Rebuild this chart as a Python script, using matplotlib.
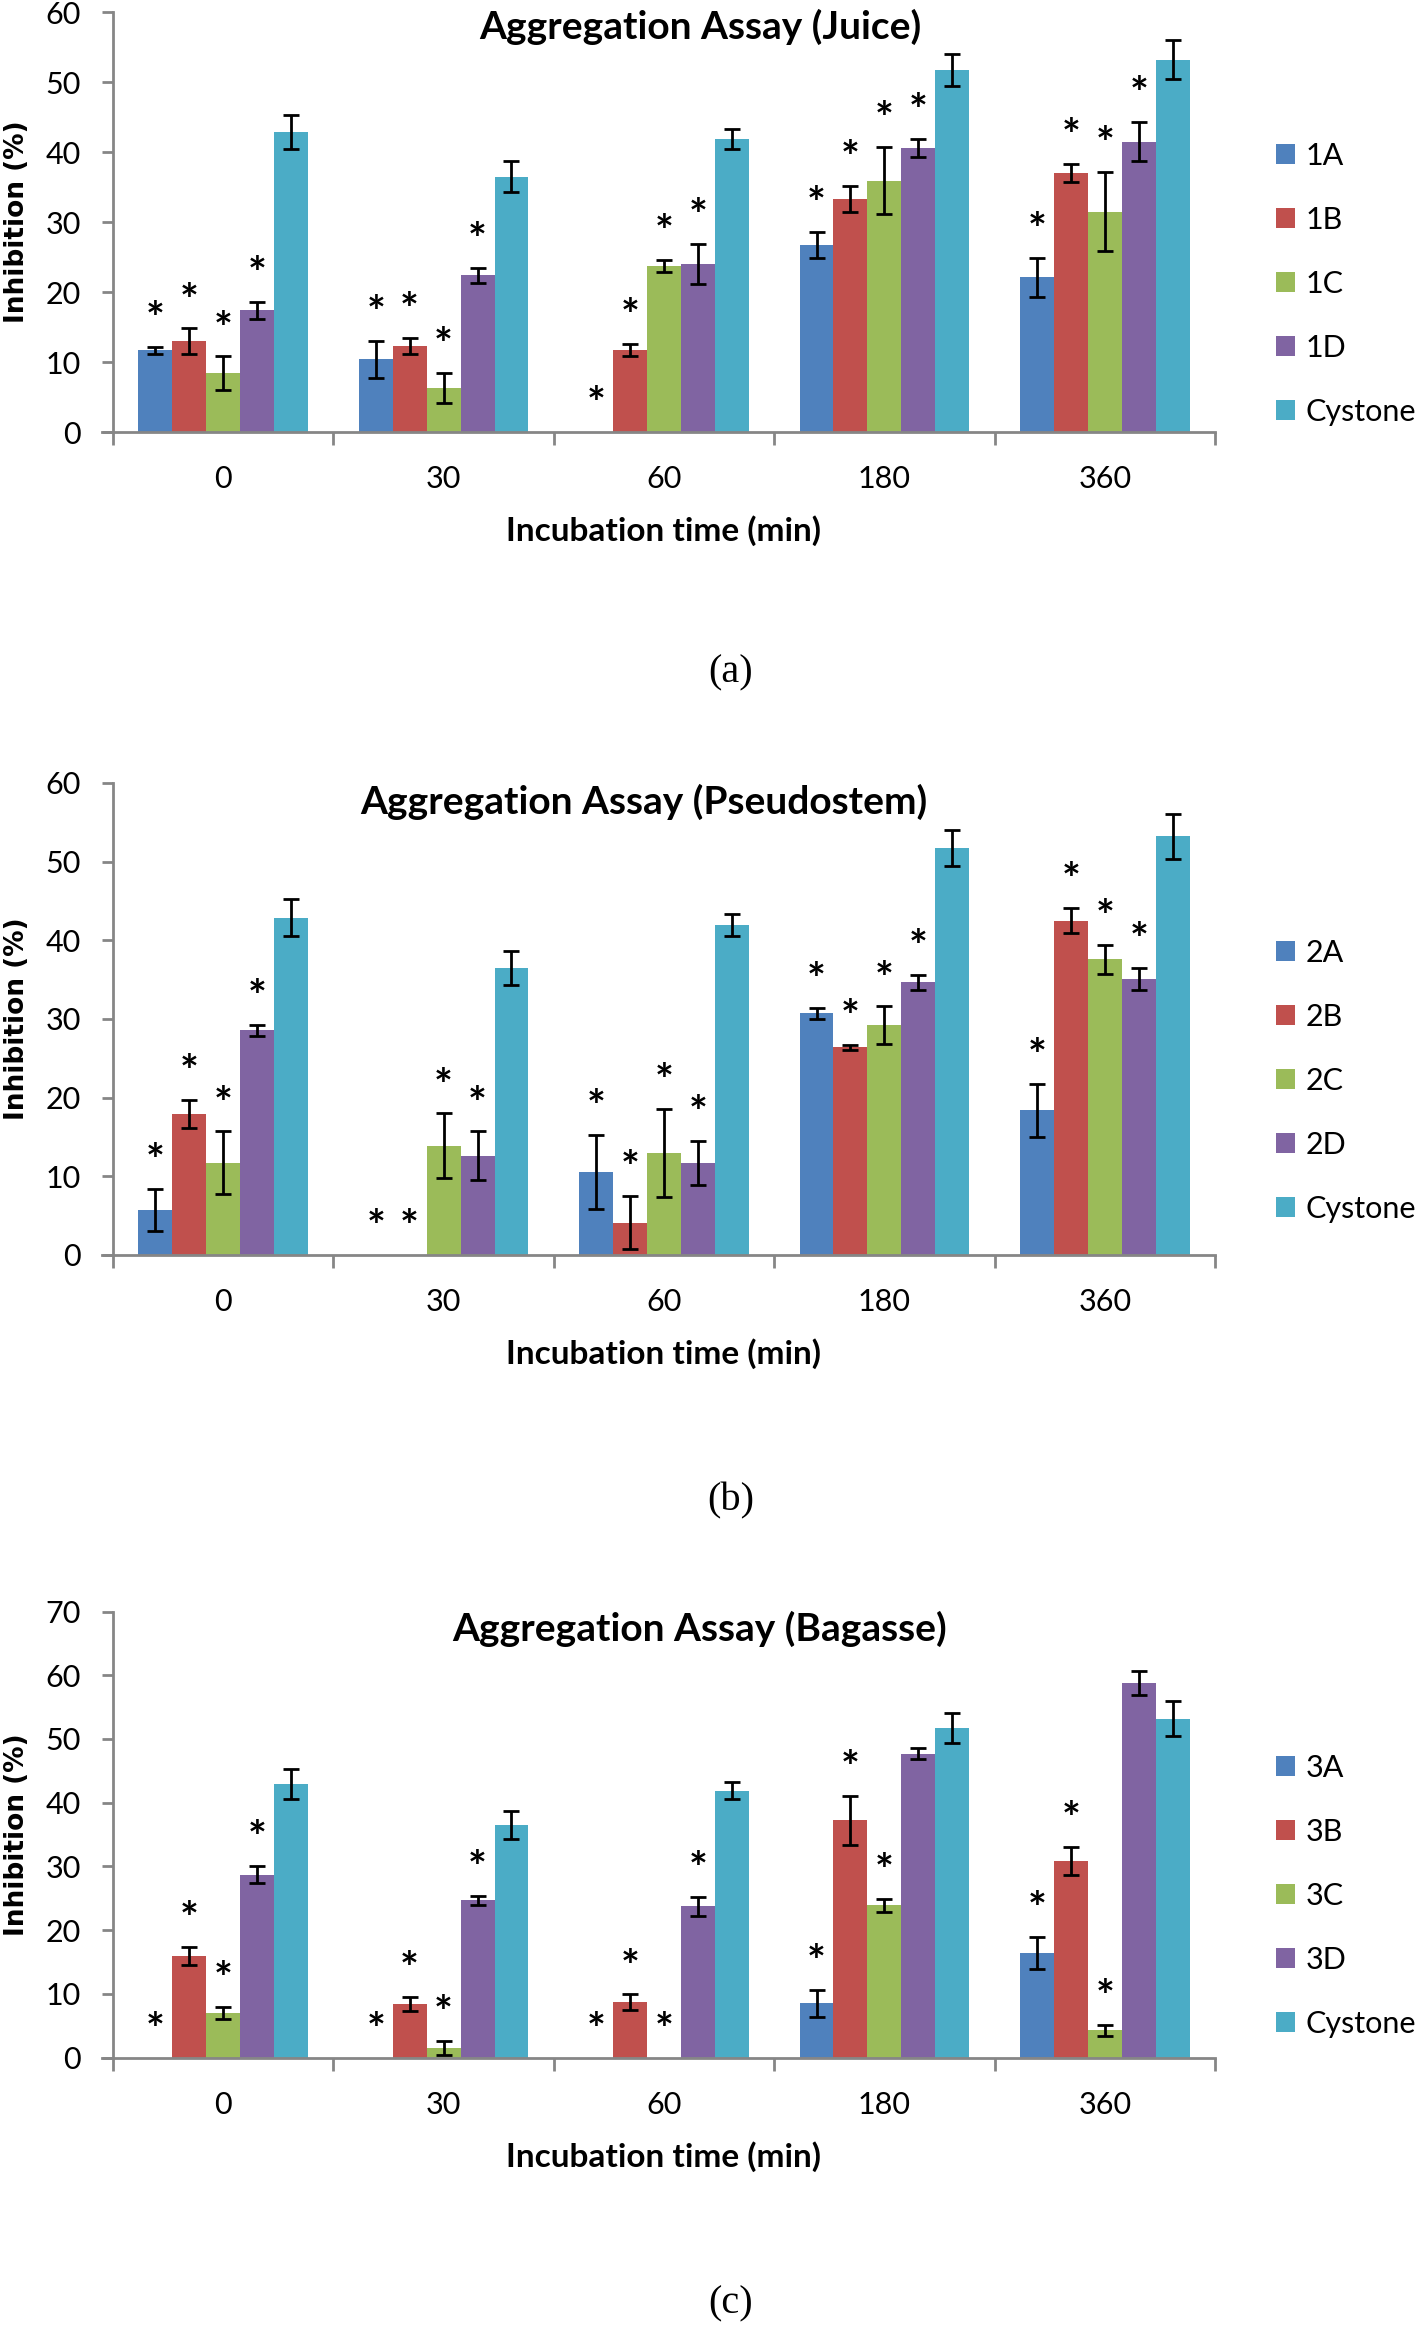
import matplotlib
matplotlib.use("Agg")
import matplotlib.pyplot as plt
import numpy as np

# ---------------- data ----------------
times = ["0", "30", "60", "180", "360"]

cystone = [42.9, 36.5, 41.9, 51.7, 53.2]
cystone_err = [2.4, 2.2, 1.4, 2.3, 2.8]

# Juice
juice_labels = ["1A", "1B", "1C", "1D", "Cystone"]
j_1A = [11.7, 10.4, 0.0, 26.7, 22.1]
j_1A_err = [0.5, 2.65, 0.0, 1.9, 2.8]
j_1B = [13.0, 12.3, 11.7, 33.3, 37.0]
j_1B_err = [1.8, 1.1, 0.9, 1.9, 1.3]
j_1C = [8.4, 6.3, 23.7, 35.9, 31.5]
j_1C_err = [2.4, 2.1, 0.9, 4.8, 5.6]
j_1D = [17.4, 22.4, 24.0, 40.6, 41.5]
j_1D_err = [1.2, 1.1, 2.9, 1.25, 2.85]
j_star = [[1, 1, 1, 1, 1], [1, 1, 1, 1, 1], [1, 1, 1, 1, 1], [1, 1, 1, 1, 1], [0, 0, 0, 0, 0]]

# Pseudostem
pseudo_labels = ["2A", "2B", "2C", "2D", "Cystone"]
p_2A = [5.7, 0.0, 10.6, 30.7, 18.4]
p_2A_err = [2.7, 0.0, 4.7, 0.65, 3.4]
p_2B = [17.9, 0.0, 4.1, 26.4, 42.5]
p_2B_err = [1.8, 0.0, 3.4, 0.35, 1.6]
p_2C = [11.7, 13.9, 13.0, 29.2, 37.6]
p_2C_err = [4.0, 4.1, 5.6, 2.4, 1.85]
p_2D = [28.6, 12.6, 11.7, 34.7, 35.1]
p_2D_err = [0.7, 3.1, 2.75, 0.95, 1.4]
p_star = [[1, 1, 1, 1, 1], [1, 1, 1, 1, 1], [1, 1, 1, 1, 1], [1, 1, 1, 1, 1], [0, 0, 0, 0, 0]]

# Bagasse
bag_labels = ["3A", "3B", "3C", "3D", "Cystone"]
b_3A = [0.0, 0.0, 0.0, 8.5, 16.4]
b_3A_err = [0.0, 0.0, 0.0, 2.1, 2.5]
b_3B = [15.9, 8.4, 8.7, 37.2, 30.8]
b_3B_err = [1.45, 1.1, 1.2, 3.8, 2.2]
b_3C = [7.0, 1.5, 0.0, 23.9, 4.3]
b_3C_err = [1.0, 1.1, 0.0, 1.0, 0.85]
b_3D = [28.7, 24.7, 23.7, 47.7, 58.8]
b_3D_err = [1.35, 0.7, 1.45, 0.9, 1.85]
b_star = [[1, 1, 1, 1, 1], [1, 1, 1, 1, 1], [1, 1, 1, 1, 1], [1, 1, 1, 0, 0], [0, 0, 0, 0, 0]]

titles = ["Aggregation Assay (Juice)", "Aggregation Assay (Pseudostem)", "Aggregation Assay (Bagasse)"]
captions = ["(a)", "(b)", "(c)"]
ymaxes = [60, 60, 70]

colors = ["#4F81BD", "#C0504D", "#9BBB59", "#8064A2", "#4BACC6"]

# ---------------- layout ----------------
W, H = 1418, 2325
fig = plt.figure(figsize=(W / 100, H / 100), dpi=100)
SANS = ["Lato", "DejaVu Sans"]
AXC = "#868686"

panels = [
    dict(series=[j_1A, j_1B, j_1C, j_1D, cystone],
         errs=[j_1A_err, j_1B_err, j_1C_err, j_1D_err, cystone_err],
         labels=juice_labels, stars=j_star,
         top=12, bottom=432, title_xy=(700, 27), leg_y=284, cap_y=673),
    dict(series=[p_2A, p_2B, p_2C, p_2D, cystone],
         errs=[p_2A_err, p_2B_err, p_2C_err, p_2D_err, cystone_err],
         labels=pseudo_labels, stars=p_star,
         top=783, bottom=1255, title_xy=(644, 802), leg_y=1081, cap_y=1501),
    dict(series=[b_3A, b_3B, b_3C, b_3D, cystone],
         errs=[b_3A_err, b_3B_err, b_3C_err, b_3D_err, cystone_err],
         labels=bag_labels, stars=b_star,
         top=1611.5, bottom=2057.5, title_xy=(700, 1629), leg_y=1896, cap_y=2304),
]

LEFT, RIGHT = 113, 1215
bw = 0.154
x = np.arange(len(times))

for k, p in enumerate(panels):
    ax = fig.add_axes([LEFT / W, 1 - p["bottom"] / H, (RIGHT - LEFT) / W,
                       (p["bottom"] - p["top"]) / H])
    handles = []
    for i, (vals, errs) in enumerate(zip(p["series"], p["errs"])):
        xs = x + (i - 2) * bw
        h = ax.bar(xs, vals, width=bw, color=colors[i], linewidth=0,
                   label=p["labels"][i], zorder=2)
        handles.append(h)
        vals_a = np.array(vals)
        errs_a = np.array(errs)
        m = vals_a > 0
        ax.errorbar(xs[m], vals_a[m], yerr=errs_a[m], fmt="none", ecolor="black",
                    elinewidth=2.0, capsize=6, capthick=2.0, zorder=3)
        for j in range(len(times)):
            if p["stars"][i][j]:
                ax.annotate("*", (xs[j], vals_a[j] + errs_a[j]), xytext=(0, 10),
                            textcoords="offset points", ha="center", va="baseline",
                            fontsize=32, fontweight="bold", family=SANS, zorder=4)
    ax.set_xlim(-0.5, len(times) - 0.5)
    ax.set_ylim(0, ymaxes[k])
    ax.set_yticks(np.arange(0, ymaxes[k] + 1, 10))
    ax.set_xticks(x)
    ax.set_xticklabels(times)
    ax.set_xticks(np.arange(-0.5, len(times), 1.0), minor=True)
    for s in ["top", "right"]:
        ax.spines[s].set_visible(False)
    for s in ["left", "bottom"]:
        ax.spines[s].set_color(AXC)
        ax.spines[s].set_linewidth(2.0)
    ax.spines["bottom"].set_bounds(-0.5 - 11 / ((RIGHT - LEFT) / 5), len(times) - 0.5)
    ax.tick_params(axis="y", direction="out", length=8, width=2.0, color=AXC,
                   pad=15, labelsize=22)
    ax.tick_params(axis="x", which="major", length=0, pad=24, labelsize=22)
    ax.tick_params(axis="x", which="minor", direction="out", length=9, width=2.0,
                   color=AXC)
    for lab in ax.get_xticklabels() + ax.get_yticklabels():
        lab.set_family(SANS)
    ax.patch.set_alpha(0)

    # title
    fig.text(p["title_xy"][0] / W, 1 - p["title_xy"][1] / H, titles[k],
             ha="center", va="center", fontsize=28, fontweight="bold", family=SANS)
    # x label
    fig.text((LEFT + RIGHT) / 2 / W, 1 - (p["bottom"] + 99) / H, "Incubation time (min)",
             ha="center", va="center", fontsize=24, fontweight="bold", family=SANS)
    # y label
    fig.text(17 / W, 1 - (p["top"] + p["bottom"]) / 2 / H, "Inhibition (%)",
             ha="center", va="center", rotation=90, fontsize=19, fontweight="bold",
             family=["DejaVu Sans"])
    # caption
    fig.text(731 / W, 1 - p["cap_y"] / H, captions[k], ha="center", va="center",
             fontsize=29, family=["Liberation Serif", "DejaVu Serif"])
    # legend
    leg = fig.legend(handles=handles, labels=p["labels"], loc="center left",
                     bbox_to_anchor=(1276 / W, 1 - p["leg_y"] / H), frameon=False,
                     prop={"family": SANS, "size": 22}, handlelength=0.62,
                     handleheight=0.62, handletextpad=0.35, labelspacing=1.18,
                     borderaxespad=0, borderpad=0)

fig.savefig("out.png", dpi=100)
